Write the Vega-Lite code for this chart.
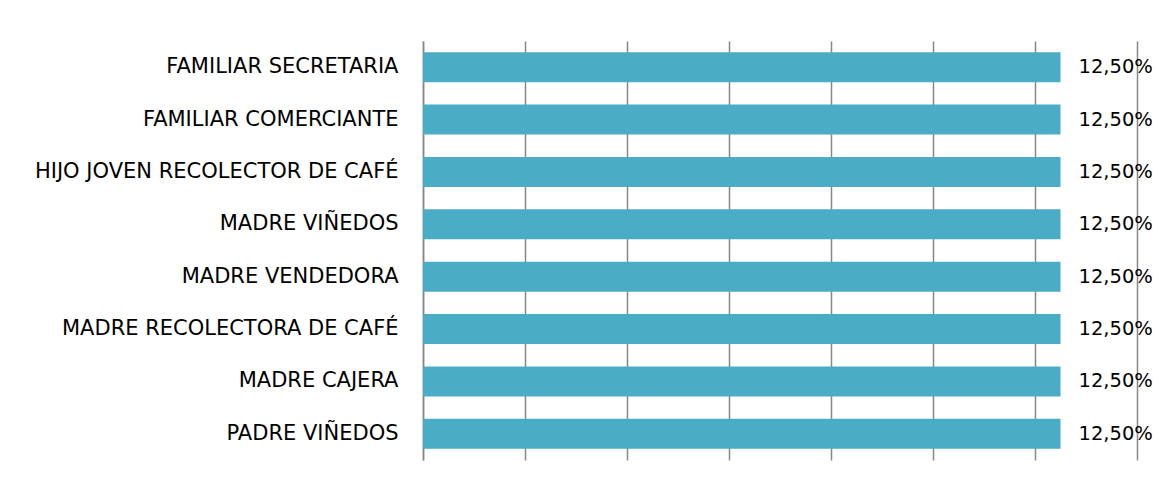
{
  "$schema": "https://vega.github.io/schema/vega-lite/v6.json",
  "width": 714,
  "height": 419,
  "autosize": "none",
  "padding": {"left": 423, "top": 41, "right": 21, "bottom": 21},
  "background": "white",
  "config": {
    "view": {"stroke": null},
    "locale": {"number": {"decimal": ",", "thousands": ".", "grouping": [3], "currency": ["", " €"]}},
    "font": "DejaVu Sans"
  },
  "data": {
    "values": [
      {"ocupacion": "FAMILIAR SECRETARIA", "porcentaje": 0.125},
      {"ocupacion": "FAMILIAR COMERCIANTE", "porcentaje": 0.125},
      {"ocupacion": "HIJO JOVEN RECOLECTOR DE CAFÉ", "porcentaje": 0.125},
      {"ocupacion": "MADRE VIÑEDOS", "porcentaje": 0.125},
      {"ocupacion": "MADRE VENDEDORA", "porcentaje": 0.125},
      {"ocupacion": "MADRE RECOLECTORA DE CAFÉ", "porcentaje": 0.125},
      {"ocupacion": "MADRE CAJERA", "porcentaje": 0.125},
      {"ocupacion": "PADRE VIÑEDOS", "porcentaje": 0.125}
    ]
  },
  "encoding": {
    "y": {
      "field": "ocupacion",
      "type": "nominal",
      "sort": null,
      "title": null,
      "scale": {"paddingInner": 0.427, "paddingOuter": 0.2135},
      "axis": {
        "domain": true,
        "domainColor": "#878787",
        "domainWidth": 1.5,
        "ticks": false,
        "labelPadding": 25,
        "labelFontSize": 21,
        "labelColor": "#000000",
        "labelFont": "DejaVu Sans",
        "labelLimit": 500,
        "grid": false
      }
    },
    "x": {
      "field": "porcentaje",
      "type": "quantitative",
      "title": null,
      "scale": {"domain": [0, 0.14], "nice": false},
      "axis": {
        "values": [0, 0.02, 0.04, 0.06, 0.08, 0.1, 0.12, 0.14],
        "grid": true,
        "gridColor": "#878787",
        "gridWidth": 1.5,
        "labels": false,
        "ticks": false,
        "domain": false
      }
    }
  },
  "layer": [
    {"mark": {"type": "bar", "color": "#4BACC6"}},
    {
      "mark": {"type": "text", "align": "left", "baseline": "middle", "dx": 18, "fontSize": 19.5, "color": "#000000", "font": "DejaVu Sans"},
      "encoding": {"text": {"field": "porcentaje", "type": "quantitative", "format": ".2%"}}
    }
  ]
}
